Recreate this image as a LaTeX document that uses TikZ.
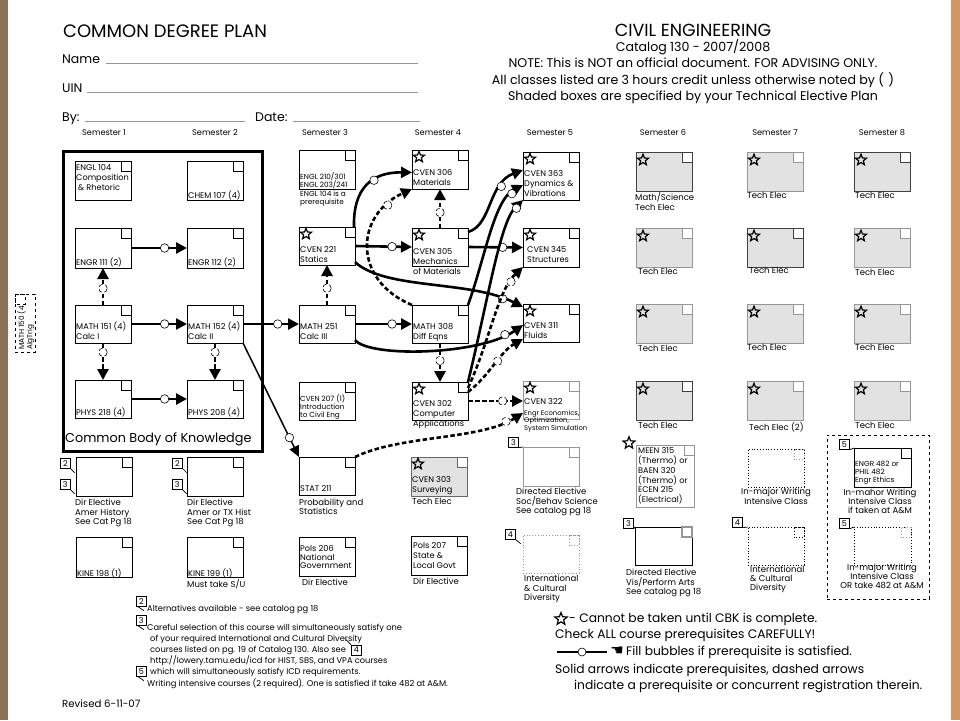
\documentclass[tikz,border=0pt]{standalone}
\usepackage{fontspec}
\setmainfont{Poppins}
\newfontfamily\symfont{DejaVu Sans}
\usetikzlibrary{arrows.meta,shapes.geometric}
\definecolor{lbar}{RGB}{140,112,88}
\definecolor{rbar}{RGB}{206,152,100}
\definecolor{shade}{RGB}{226,226,226}
\definecolor{gline}{RGB}{150,150,150}
\newcommand\bt{\fontsize{8.2}{9.8}\selectfont}
\newcommand\lt{\fontsize{8.5}{9.9}\selectfont}
\newcommand\smt{\fontsize{7.3}{8.4}\selectfont}
\newcommand\fnt{\fontsize{8.3}{10.8}\selectfont}
\newcommand\lgt{\fontsize{12.3}{12.3}\selectfont}
\newcommand\hrt{\fontsize{12.6}{12.6}\selectfont}
\newcommand\crn[2][]{\draw[line width=0.8pt,#1] (#2.north east) rectangle ++(-10,10);}
\begin{document}
\begin{tikzpicture}[x=1pt,y=-1pt,
  box/.style={draw, line width=0.8pt, anchor=north west, minimum width=56pt, minimum height=39pt, inner sep=0pt, outer sep=0pt},
  gbox/.style={box, draw=gline, fill=shade},
  gboxd/.style={box, draw=black!75, fill=shade},
  tx/.style={font=\bt, align=left, inner sep=0pt, anchor=north west},
  lb/.style={font=\lt, align=left, inner sep=0pt, anchor=north west},
  txs/.style={font=\smt, align=left, inner sep=0pt, anchor=north west},
  lbc/.style={font=\lt, align=center, inner sep=0pt, anchor=north},
  starn/.style={star, star points=5, star point ratio=2.3, draw, line width=1.2pt, minimum size=11.5pt, inner sep=0pt, line join=miter},
  bub/.style={circle, draw, line width=0.6pt, fill=white, inner sep=0pt, minimum size=8.5pt},
  pre/.style={line width=2.6pt, -{Triangle[length=11pt,width=11pt]}},
  cc/.style={pre, dash pattern=on 4.5pt off 2.5pt},
  thinpre/.style={line width=1.5pt, -{Triangle[length=11pt,width=10pt]}},
  tagn/.style={draw, line width=0.7pt, minimum width=10pt, minimum height=10pt, inner sep=0pt, anchor=north west, font=\fontsize{8}{8}\selectfont},
  tail/.style={line width=0.7pt},
  semlbl/.style={font=\fontsize{8.2}{9}\selectfont, inner sep=0pt},
  hdr/.style={inner sep=0pt, anchor=base west},
  fnl/.style={inner sep=0pt, anchor=base west, font=\fnt},
  lgl/.style={inner sep=0pt, anchor=west, font=\lgt},
  uline/.style={draw=gline, line width=0.8pt},
]
\fill[white] (0,0) rectangle (960,720);
\useasboundingbox (0,0) rectangle (960,720);
\fill[lbar] (0,0) rectangle (8,720);
\fill[rbar] (951,0) rectangle (960,720);

% ---------- header left
\node[hdr, font=\fontsize{18}{18}\selectfont] (title) at (63,37) {COMMON DEGREE PLAN};
\node[hdr, font=\fontsize{12.5}{12.5}\selectfont] (name) at (62,63) {Name};
\node[hdr, font=\fontsize{12.5}{12.5}\selectfont] (uin) at (62,92) {UIN};
\node[hdr, font=\fontsize{12.5}{12.5}\selectfont] (by) at (62,121) {By:};
\node[hdr, font=\fontsize{12.5}{12.5}\selectfont] (date) at (255,121) {Date:};
\coordinate (n1) at (106,63); \coordinate (n2) at (418,63);
\coordinate (u1) at (87,92); \coordinate (u2) at (418,92);
\coordinate (y1) at (85,121); \coordinate (y2) at (245,121);
\coordinate (d1) at (293,121); \coordinate (d2) at (420,121);
\draw[uline] (n1) -- (n2); \draw[uline] (u1) -- (u2);
\draw[uline] (y1) -- (y2); \draw[uline] (d1) -- (d2);

% ---------- header right
\node[inner sep=0pt, font=\fontsize{17.5}{17.5}\selectfont] (civ) at (693,30) {CIVIL ENGINEERING};
\node[inner sep=0pt, font=\hrt] (cat) at (693,47) {Catalog 130 - 2007/2008};
\node[inner sep=0pt, font=\hrt] (note) at (693,63) {NOTE: This is NOT an official document. FOR ADVISING ONLY.};
\node[inner sep=0pt, font=\hrt] (allc) at (693,80) {All classes listed are 3 hours credit unless otherwise noted by (\,\,)};
\node[inner sep=0pt, font=\hrt] (shd) at (693,97) {Shaded boxes are specified by your Technical Elective Plan};

% ---------- semester labels
\node[semlbl] (s1) at (104,133) {Semester 1};
\node[semlbl] (s2) at (215,133) {Semester 2};
\node[semlbl] (s3) at (325,133) {Semester 3};
\node[semlbl] (s4) at (438,133) {Semester 4};
\node[semlbl] (s5) at (550,133) {Semester 5};
\node[semlbl] (s6) at (663,133) {Semester 6};
\node[semlbl] (s7) at (775,133) {Semester 7};
\node[semlbl] (s8) at (882,133) {Semester 8};

% ---------- CBK
\node[draw, line width=3pt, anchor=north west, minimum width=199pt, minimum height=300pt, inner sep=0pt, outer sep=0pt] (cbk) at (63,151) {};
\node[hdr, font=\fontsize{12.8}{12.8}\selectfont] (cbkt) at (65,442) {Common Body of Knowledge};

% sem 1 & 2
\node[box] (engl104) at (75,161) {}; \crn{engl104}
\node[tx] (engl104t) at (76,164.5) {ENGL 104\\Composition\\\hspace{2pt}\& Rhetoric};
\node[box] (chem107) at (187,161) {}; \crn{chem107}
\node[tx] (chem107t) at (188,190.5) {CHEM 107 (4)};
\node[box, minimum height=40pt] (engr111) at (75,228) {}; \crn{engr111}
\node[tx] (engr111t) at (76,257.5) {ENGR 111 (2)};
\node[box, minimum height=40pt] (engr112) at (187,228) {}; \crn{engr112}
\node[tx] (engr112t) at (188,257.5) {ENGR 112 (2)};
\node[box, minimum height=38pt] (math151) at (75,305) {}; \crn{math151}
\node[tx] (math151t) at (76,321.5) {MATH 151 (4)\\Calc I};
\node[box, minimum height=38pt] (math152) at (187,305) {}; \crn{math152}
\node[tx] (math152t) at (188,321.5) {MATH 152 (4)\\Calc II};
\node[box, minimum height=38pt] (phys218) at (75,380) {}; \crn{phys218}
\node[tx] (phys218t) at (76,407.5) {PHYS 218 (4)};
\node[box, minimum height=38pt] (phys208) at (187,380) {}; \crn{phys208}
\node[tx] (phys208t) at (188,407.5) {PHYS 208 (4)};

% sem 3
\node[box] (engl210) at (299,150) {}; \crn{engl210}
\node[txs] (engl210t) at (300,172.5) {ENGL 210/301\\ENGL 203/241};
\node[txs] (engl210n) at (300,190.5) {ENGL 104 is a\\prerequisite};
\node[box, minimum height=38pt] (cven221) at (299,227) {}; \crn{cven221}
\node[starn] (st221) at (306,234) {};
\node[tx] (cven221t) at (300,246.5) {CVEN 221\\Statics};
\node[box, minimum height=38pt] (math251) at (299,305) {}; \crn{math251}
\node[tx] (math251t) at (300,323.5) {MATH 251\\Calc III};
\node[box, minimum height=38pt] (cven207) at (299,382) {}; \crn{cven207}
\node[txs] (cven207t) at (300,394) {CVEN 207 (1)\\Introduction\\to Civil Eng};

% sem 4
\node[box] (cven306) at (412,150) {}; \crn{cven306}
\node[starn] (st306) at (419,157) {};
\node[tx] (cven306t) at (413,169.5) {CVEN 306\\Materials};
\node[box, minimum height=38pt] (cven305) at (412,228) {}; \crn{cven305}
\node[starn] (st305) at (419,235) {};
\node[tx] (cven305t) at (413,248.5) {CVEN 305\\Mechanics\\of Materials};
\node[box, minimum height=38pt] (math308) at (412,305) {}; \crn{math308}
\node[tx] (math308t) at (413,323.5) {MATH 308\\Diff Eqns};
\node[box, minimum height=38pt] (cven302) at (412,382) {}; \crn{cven302}
\node[starn] (st302) at (419,389) {};
\node[tx] (cven302t) at (413,400.5) {CVEN 302\\Computer\\Applications};

% sem 5
\node[box, minimum height=48pt] (cven363) at (523,152) {}; \crn{cven363}
\node[starn] (st363) at (530,159) {};
\node[tx] (cven363t) at (524,170.5) {CVEN 363\\Dynamics \&\\Vibrations};
\node[box] (cven345) at (523,228) {}; \crn{cven345}
\node[starn] (st345) at (530,235) {};
\node[tx] (cven345t) at (527,246.5) {CVEN 345\\Structures};
\node[box, minimum height=38pt] (cven311) at (523,304) {}; \crn{cven311}
\node[starn] (st311) at (530,311) {};
\node[tx] (cven311t) at (524,322.5) {CVEN 311\\Fluids};
\node[box, draw=gline, minimum height=38pt] (cven322) at (523,381) {}; \crn[draw=gline]{cven322}
\node[starn] (st322) at (530,388) {};
\node[tx] (cven322t) at (524,398.5) {CVEN 322};
\node[txs, font=\fontsize{6.8}{7.4}\selectfont] (cven322s) at (524,410) {Engr Economics,\\Optimization,\\System Simulation};

% sem 6 - 8 technical electives
\node[gboxd] (te61) at (636,152) {}; \crn[draw=black!75, fill=white]{te61}
\node[gbox] (te62) at (636,228) {}; \crn[draw=gline, fill=white]{te62}
\node[gbox] (te63) at (636,304) {}; \crn[draw=gline, fill=white]{te63}
\node[gboxd] (te64) at (636,381) {}; \crn[draw=black!75, fill=white]{te64}
\node[gbox] (te71) at (747,152) {}; \crn[draw=gline, fill=white]{te71}
\node[gboxd] (te72) at (747,228) {}; \crn[draw=black!75, fill=white]{te72}
\node[gbox] (te73) at (747,304) {}; \crn[draw=gline, fill=white]{te73}
\node[gbox] (te74) at (747,381) {}; \crn[draw=gline, fill=white]{te74}
\node[gboxd] (te81) at (854,152) {}; \crn[draw=black!75, fill=white]{te81}
\node[gbox] (te82) at (854,228) {}; \crn[draw=gline, fill=white]{te82}
\node[gbox] (te83) at (854,304) {}; \crn[draw=gline, fill=white]{te83}
\node[gbox] (te84) at (854,381) {}; \crn[draw=gline, fill=white]{te84}
\foreach \n in {te61,te62,te63,te64,te71,te72,te73,te74,te81,te82,te83,te84}{
  \node[starn] (st\n) at ([xshift=7pt,yshift=-8pt]\n.north west) {};
}
\node[lb] (te61t) at (635,192.5) {Math/Science\\Tech Elec};
\node[lb] (te62t) at (638,268.5) {Tech Elec};
\node[lb] (te63t) at (638,345.5) {Tech Elec};
\node[lb] (te64t) at (638,422.5) {Tech Elec};
\node[lb] (te71t) at (747,192.5) {Tech Elec};
\node[lb] (te72t) at (749,267.5) {Tech Elec};
\node[lb] (te73t) at (747,344.5) {Tech Elec};
\node[lb] (te74t) at (749,422.5) {Tech Elec (2)};
\node[lb] (te81t) at (855,192.5) {Tech Elec};
\node[lb] (te82t) at (855,269.5) {Tech Elec};
\node[lb] (te83t) at (855,344.5) {Tech Elec};
\node[lb] (te84t) at (855,422.5) {Tech Elec};

% ---------- bottom rows
\node[box] (dir1) at (76,457) {}; \crn{dir1}
\node[tagn] (tg1) at (60,458) {2}; \draw[tail] (tg1.south east) -- ++(4,4);
\node[tagn] (tg2) at (60,479) {3}; \draw[tail] (tg2.south east) -- ++(4,4);
\node[lb] (dir1t) at (75,498.5) {Dir Elective\\Amer History\\See Cat Pg 18};
\node[box] (dir2) at (187,457) {}; \crn{dir2}
\node[tagn] (tg3) at (172,458) {2}; \draw[tail] (tg3.south east) -- ++(4,4);
\node[tagn] (tg4) at (172,479) {3}; \draw[tail] (tg4.south east) -- ++(4,4);
\node[lb] (dir2t) at (187,498.5) {Dir Elective\\Amer or TX Hist\\See Cat Pg 18};
\node[box, minimum height=38pt] (stat211) at (299,457) {}; \crn{stat211}
\node[tx] (stat211t) at (300,485.5) {STAT 211};
\node[lb, font=\fontsize{8.5}{9}\selectfont] (stat211l) at (299,498.5) {Probability and\\Statistics};
\node[gbox, draw=black!60] (cven303) at (411,457) {}; \crn[draw=black!60, fill=white]{cven303}
\node[starn] (st303) at (418,464) {};
\node[tx] (cven303t) at (412,476.5) {CVEN 303\\Surveying};
\node[lb] (cven303l) at (412,498.5) {Tech Elec};

\node[box, minimum height=40pt] (kine198) at (76,537) {}; \crn{kine198}
\node[tx] (kine198t) at (77,568.5) {KINE 198 (1)};
\node[box, minimum height=40pt] (kine199) at (187,537) {}; \crn{kine199}
\node[tx] (kine199t) at (188,568.5) {KINE 199 (1)};
\node[lb] (kine199l) at (187,579) {Must take S/U};
\node[box] (pols206) at (299,537) {}; \crn{pols206}
\node[tx, font=\fontsize{8.2}{8.6}\selectfont] (pols206t) at (300,545.5) {Pols 206\\National\\Government};
\node[lb] (pols206l) at (302,579) {Dir Elective};
\node[box] (pols207) at (411,536) {}; \crn{pols207}
\node[tx] (pols207t) at (413,542.5) {Pols 207\\State \&\\Local Govt};
\node[lb] (pols207l) at (413,578) {Dir Elective};

% sem 5 bottom
\node[box, draw=gline] (dsoc) at (523,447) {}; \crn[draw=gline]{dsoc}
\node[tagn] (tg5) at (508,437) {3}; \draw[tail] (tg5.south east) -- (dsoc.north west);
\node[lb] (dsoct) at (516,487.5) {Directed Elective\\Soc/Behav Science\\See catalog pg 18};
\node[box, draw=gline, dotted, minimum height=38pt] (icd5) at (523,535) {}; \crn[draw=gline, dotted]{icd5}
\node[tagn] (tg6) at (505,529) {4}; \draw[tail] (tg6.south east) -- ++(5,4);
\node[lb] (icd5t) at (524,574.5) {International\\\& Cultural\\Diversity};

% sem 6 bottom
\node[starn, minimum size=12.5pt] (stmeen) at (629,443) {};
\node[box, draw=gline, minimum width=58pt, minimum height=62pt] (meen) at (636,445) {}; \crn[draw=gline]{meen}
\node[tx, font=\fontsize{8.2}{9.8}\selectfont] (meent) at (638,447.5) {MEEN 315\\(Thermo) or\\BAEN 320\\(Thermo) or\\ECEN 215\\(Electrical)};
\node[box, minimum width=57pt, minimum height=38pt] (dvis) at (635,527) {}; \crn[draw=gline, line width=1.2pt]{dvis}
\node[tagn] (tg7) at (623,518) {3}; \draw[tail] (tg7.south east) -- (dvis.north west);
\node[lb] (dvist) at (626,568.5) {Directed Elective\\Vis/Perform Arts\\See catalog pg 18};

% sem 7 / 8 bottom
\node[box, dotted, line width=0.7pt, minimum height=38pt] (wi7) at (748,449) {}; \crn[draw=gline, dotted]{wi7}
\node[lbc] (wi7t) at (776,487.5) {In-major Writing\\Intensive Class};
\node[box, dotted, line width=0.7pt, minimum height=38pt] (icd7) at (748,527) {}; \crn[dotted]{icd7}
\node[tagn] (tg8) at (732,517) {4}; \draw[tail] (tg8.south east) -- (icd7.north west);
\node[lb, font=\fontsize{8.5}{9}\selectfont] (icd7t) at (750,566) {International\\\& Cultural\\Diversity};
\node[draw, dashed, line width=0.7pt, anchor=north west, minimum width=102pt, minimum height=164pt, inner sep=0pt] (wibox) at (827,435) {};
\node[box, minimum width=57pt] (engr482) at (854,448) {}; \crn{engr482}
\node[tagn] (tg9) at (839,439) {5}; \draw[tail] (tg9.south east) -- (engr482.north west);
\node[txs] (engr482t) at (855,460.5) {ENGR 482 or\\PHIL 482\\Engr Ethics};
\node[lbc, font=\fontsize{8.5}{9}\selectfont] (engr482l) at (880,488.5) {In-mahor Writing\\Intensive Class\\if taken at A\&M};
\node[box, dotted, line width=0.7pt, minimum width=57pt, minimum height=38pt] (wi8) at (854,527) {}; \crn[draw=gline, dotted]{wi8}
\node[tagn] (tg10) at (839,518) {5}; \draw[tail] (tg10.south east) -- (wi8.north west);
\node[lbc, font=\fontsize{8.5}{9}\selectfont] (wi8t) at (882,563.5) {In-major Writing\\Intensive Class\\OR take 482 at A\&M};

% MATH 150 (left margin)
\node[draw, dashed, line width=0.7pt, anchor=north west, minimum width=20pt, minimum height=58pt, inner sep=0pt] (math150) at (15,294) {};
\draw[dashed, line width=0.7pt] (math150.north west) rectangle ++(10,10);
\node[txs, rotate=90, anchor=north west] (math150t) at (17,350) {MATH 150 (4\\AlgTrig};

% ---------- arrows
\draw[pre] (engr111.east) -- (engr112.west) node[bub,pos=0.6] (b1) {};
\draw[pre] (math151.east) -- (math152.west) node[bub,pos=0.6] (b2) {};
\draw[pre] (phys218.east) -- (phys208.west) node[bub,pos=0.6] (b3) {};
\draw[pre] (math152.east) -- (math251.west) node[bub,pos=0.62] (b4) {};
\draw[pre] (math251.east) -- (math308.west) node[bub,pos=0.65] (b5) {};
\draw[pre] (cven221.east) -- (cven305.west) node[bub,pos=0.65] (b6) {};
\draw[pre] (cven305.east) -- (cven345.west) node[bub,pos=0.63] (b7) {};

\draw[cc] (math151.north) -- (engr111.south) node[bub,pos=0.45] (b8) {};
\draw[cc] (math151.south) -- (phys218.north) node[bub,pos=0.25] (b9) {};
\draw[cc] (math152.south) -- (phys208.north) node[bub,pos=0.25] (b10) {};
\draw[cc] (math251.north) -- (cven221.south) node[bub,pos=0.42] (b11) {};
\draw[cc] (cven305.north) -- (cven306.south) node[bub,pos=0.4] (b12) {};
\draw[cc] (math308.south) -- (cven302.north) node[bub,pos=0.45] (b13) {};

\draw[pre] ([xshift=-1pt]cven221.north east) .. controls (353,188) and (372,172) .. ([yshift=-3pt]cven306.west) node[bub,pos=0.6] (b14) {};
\draw[cc] (math308.north west) .. controls (352,280) and (355,215) .. (cven306.south west) node[bub,pos=0.83] (b15) {};
\draw[pre] ([yshift=-4pt]cven305.north east) .. controls (492,225) and (488,183) .. ([yshift=-18pt]cven363.north west) node[bub,pos=0.72] (b16) {};
\draw[pre] (math308.north east) .. controls (485,258) and (494,200) .. ([yshift=-33pt]cven363.north west) node[bub,pos=0.86] (b17) {};
\draw[pre] (cven302.north east) .. controls (488,300) and (500,222) .. (cven363.south west) node[bub,pos=0.9] (b18) {};
\draw[pre] ([yshift=3pt]cven221.south east) .. controls (385,290) and (470,280) .. ([yshift=-3pt]cven311.north west) node[bub,pos=0.88] (b19) {};
\draw[pre] ([yshift=3pt]math251.south east) .. controls (370,358) and (480,355) .. ([yshift=-21pt]cven311.north west) node[bub,pos=0.88] (b20) {};
\draw[cc] ([yshift=-6pt]cven302.north east) .. controls (490,340) and (498,290) .. (cven345.south west) node[bub,pos=0.82] (b21) {};
\draw[cc] ([yshift=-10pt]cven302.north east) .. controls (490,375) and (500,352) .. ([yshift=3pt]cven311.south west) node[bub,pos=0.55] (b22) {};
\draw[cc] (cven302.east) -- (cven302.east -| cven322.west) node[bub,pos=0.63] (b23) {};
\draw[cc] (stat211.north east) .. controls (400,435) and (480,440) .. ([yshift=6pt]cven322.south west) node[bub,pos=0.88] (b24) {};
\draw[thinpre] (math152.south east) -- (stat211.north west) node[bub,pos=0.83] (b25) {};

% ---------- footnotes
\node[tagn] (fn2) at (136,596) {2}; \draw[tail] ([xshift=2pt]fn2.south west) -- ++(6,4);
\node[fnl] (fn2t) at (147,611) {Alternatives available - see catalog pg 18};
\node[tagn] (fn3) at (136,615) {3}; \draw[tail] ([xshift=2pt]fn3.south west) -- ++(6,4);
\node[fnl] (fl1) at (147,630) {Careful selection of this course will simultaneously satisfy one};
\node[fnl] (fl2) at (150,641) {of your required International and Cultural Diversity};
\node[fnl] (fl3) at (150,652) {courses listed on pg. 19 of Catalog 130. Also see};
\node[fnl] (fl4) at (150,663) {http://lowery.tamu.edu/icd for HIST, SBS, and VPA courses};
\node[fnl] (fl5) at (150,674) {which will simultaneously satisfy ICD requirements.};
\node[tagn, anchor=west] (fn4) at ([xshift=5pt,yshift=2pt]fl3.base east) {4};
\draw[tail] (fn4.north west) -- ++(-5,-5);
\node[tagn] (fn5) at (136,666) {5}; \draw[tail] ([xshift=2pt]fn5.south west) -- ++(6,4);
\node[fnl] (fn5t) at (147,686) {Writing intensive courses (2 required). One is satisfied if take 482 at A\&M.};
\node[hdr, font=\fontsize{10.2}{10.2}\selectfont] (rev) at (62,707) {Revised 6-11-07};

% ---------- legend
\node[starn, minimum size=13pt] (lgstar) at (561,619) {};
\node[lgl] (lg1) at (569,619) {- Cannot be taken until CBK is complete.};
\node[lgl] (lg2) at (555,635) {Check ALL course prerequisites CAREFULLY!};
\coordinate (la) at (557,652); \coordinate (lb) at (607,652);
\draw[line width=2.4pt] (la) -- (lb) node[bub, minimum size=8pt, pos=0.5] (lgb) {};
\node[inner sep=0pt, anchor=center, font=\symfont\fontsize{15}{15}\selectfont] (hand) at (617,651) {☚};
\node[lgl] (lg3) at (626,652) {Fill bubbles if prerequisite is satisfied.};
\node[lgl] (lg4) at (555,670) {Solid arrows indicate prerequisites, dashed arrows};
\node[lgl] (lg5) at (574,686) {indicate a prerequisite or concurrent registration therein.};
\end{tikzpicture}
\end{document}
